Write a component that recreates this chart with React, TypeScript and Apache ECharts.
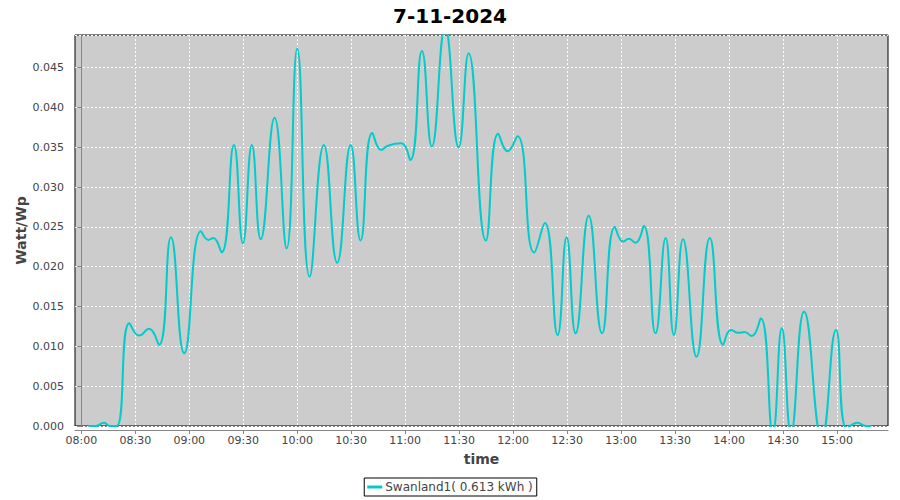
import React, { useEffect, useRef } from "react";
import * as echarts from "echarts";

// minutes after 08:00 on 7-11-2024
const minutesAfter8: number[] = [
  4, 8, 12.6, 16, 19.7, 26.7, 32.2, 37.6, 43.2, 49.8, 57.2, 66.5, 70.6, 73.3, 78,
  84.8, 89.8, 94.8, 99.7, 107.4, 114.1, 120, 126.9, 134.8, 142.2, 149.7, 155.2,
  161.7, 166.7, 170.4, 177.8, 182.8, 189.3, 194.8, 202.2, 209.7, 215.2, 224.8,
  231.7, 236.9, 242.4, 251.7, 257.6, 264.7, 269.7, 274.7, 282, 289.4, 296.5,
  301.1, 304.3, 308, 312.6, 319.1, 324.7, 329.3, 334.4, 341.9, 349.3, 356.7, 361,
  365.2, 368.5, 372.6, 377.6, 384.3, 389.3, 394.4, 401.7, 411.5, 419.4, 425.4,
  431.3, 436, 439,
];
const wattPerWp: number[] = [
  0, 0, 0.0004, 0, 0, 0.0129, 0.01135, 0.0122, 0.0102, 0.0237, 0.00913, 0.02446,
  0.02337, 0.0236, 0.0218, 0.0353, 0.02295, 0.0353, 0.02345, 0.0387, 0.0223,
  0.0474, 0.01876, 0.0353, 0.0205, 0.0353, 0.0233, 0.0368, 0.03467, 0.0352,
  0.0355, 0.0334, 0.0471, 0.0351, 0.05, 0.035, 0.0468, 0.0233, 0.0367, 0.0345,
  0.0364, 0.0218, 0.0255, 0.01143, 0.0237, 0.01164, 0.0264, 0.01164, 0.025,
  0.02316, 0.0235, 0.023, 0.0251, 0.01164, 0.0236, 0.01143, 0.02345, 0.0087,
  0.0236, 0.0102, 0.01206, 0.0117, 0.0118, 0.0113, 0.01349, -0.0008, 0.01227,
  -0.0008, 0.01436, -0.0015, 0.01206, -0.0003, 0.0004, 0, 0,
];
// x tick positions (minutes after 08:00) and their labels
const xTickMinutes: number[] = [0, 30, 60, 90, 120, 150, 180, 210, 240, 270, 300, 330, 360, 390, 420];
const xTickLabels: string[] = [
  "08:00", "08:30", "09:00", "09:30", "10:00", "10:30", "11:00", "11:30",
  "12:00", "12:30", "13:00", "13:30", "14:00", "14:30", "15:00",
];
const seriesName = "Swanland1( 0.613 kWh )";
const titleText = "7-11-2024";
const yTickInterval = 0.005;
const yMax = 0.0491;
const xStartMin = -3.5;
const xEndMin = 448.3;

const FONT = "DejaVu Sans";

export default function App() {
  const ref = useRef<HTMLDivElement>(null);
  useEffect(() => {
    document.body.style.margin = "0";
    if (!ref.current) return;
    const chart = echarts.init(ref.current, undefined, { renderer: "svg" });
    const data = minutesAfter8.map((m, i) => [m, wattPerWp[i]]);
    const labelFor = (v: number) => {
      const idx = xTickMinutes.indexOf(Math.round(v));
      return idx >= 0 ? xTickLabels[idx] : "";
    };
    chart.setOption({
      animation: false,
      backgroundColor: "#ffffff",
      textStyle: { fontFamily: FONT },
      title: {
        text: titleText,
        left: "center",
        top: 1,
        textStyle: { fontFamily: FONT, fontWeight: "bold", fontSize: 20, color: "#000" },
      },
      legend: {
        data: [{ name: seriesName }],
        left: "center",
        top: 478,
        icon: "rect",
        itemWidth: 15,
        itemHeight: 3,
        itemGap: 4,
        padding: [3, 4, 3, 3],
        borderColor: "#000",
        borderWidth: 1,
        textStyle: { fontFamily: FONT, fontSize: 12, color: "#444", padding: [0, 0, 0, -2] },
      },
      grid: {
        left: 75,
        right: 12,
        top: 35,
        bottom: 74,
        show: true,
        backgroundColor: "#cccccc",
        borderColor: "#000",
        borderWidth: 1,
      },
      xAxis: {
        type: "value",
        min: xStartMin,
        max: xEndMin,
        offset: 4,
        name: "time",
        nameLocation: "middle",
        nameGap: 22,
        nameMoveOverlap: false,
        nameTextStyle: { fontFamily: FONT, fontSize: 14, fontWeight: "bold", color: "#444" },
        axisLine: { show: true, onZero: false, lineStyle: { color: "#888", width: 1 } },
        axisTick: { show: true, length: 4, customValues: xTickMinutes, lineStyle: { color: "#888" } },
        axisLabel: {
          customValues: xTickMinutes,
          formatter: labelFor,
          margin: 5,
          fontFamily: FONT,
          fontSize: 11,
          color: "#444",
          hideOverlap: false,
        },
        splitLine: { show: true, lineStyle: { color: "#ffffff", type: [2, 2], width: 1 } },
      },
      yAxis: {
        type: "value",
        min: 0,
        max: yMax,
        interval: yTickInterval,
        offset: 4,
        name: "Watt/Wp",
        nameLocation: "middle",
        nameGap: 43,
        nameMoveOverlap: false,
        nameTextStyle: { fontFamily: FONT, fontSize: 14, fontWeight: "bold", color: "#444" },
        axisLine: { show: true, lineStyle: { color: "#888", width: 1 } },
        axisTick: { show: true, length: 4, lineStyle: { color: "#888" } },
        axisLabel: {
          formatter: (v: number) => v.toFixed(3),
          margin: 7,
          fontFamily: FONT,
          fontSize: 11,
          color: "#444",
          showMaxLabel: false,
        },
        splitLine: { show: true, lineStyle: { color: "#ffffff", type: [2, 2], width: 1 } },
      },
      series: [
        {
          name: seriesName,
          type: "line",
          data,
          smooth: 0.5,
          symbol: "none",
          clip: true,
          lineStyle: { color: "#00cccc", width: 2 },
          itemStyle: { color: "#00cccc" },
        },
      ],
    });
    return () => chart.dispose();
  }, []);
  return <div ref={ref} style={{ width: 900, height: 500 }} />;
}
